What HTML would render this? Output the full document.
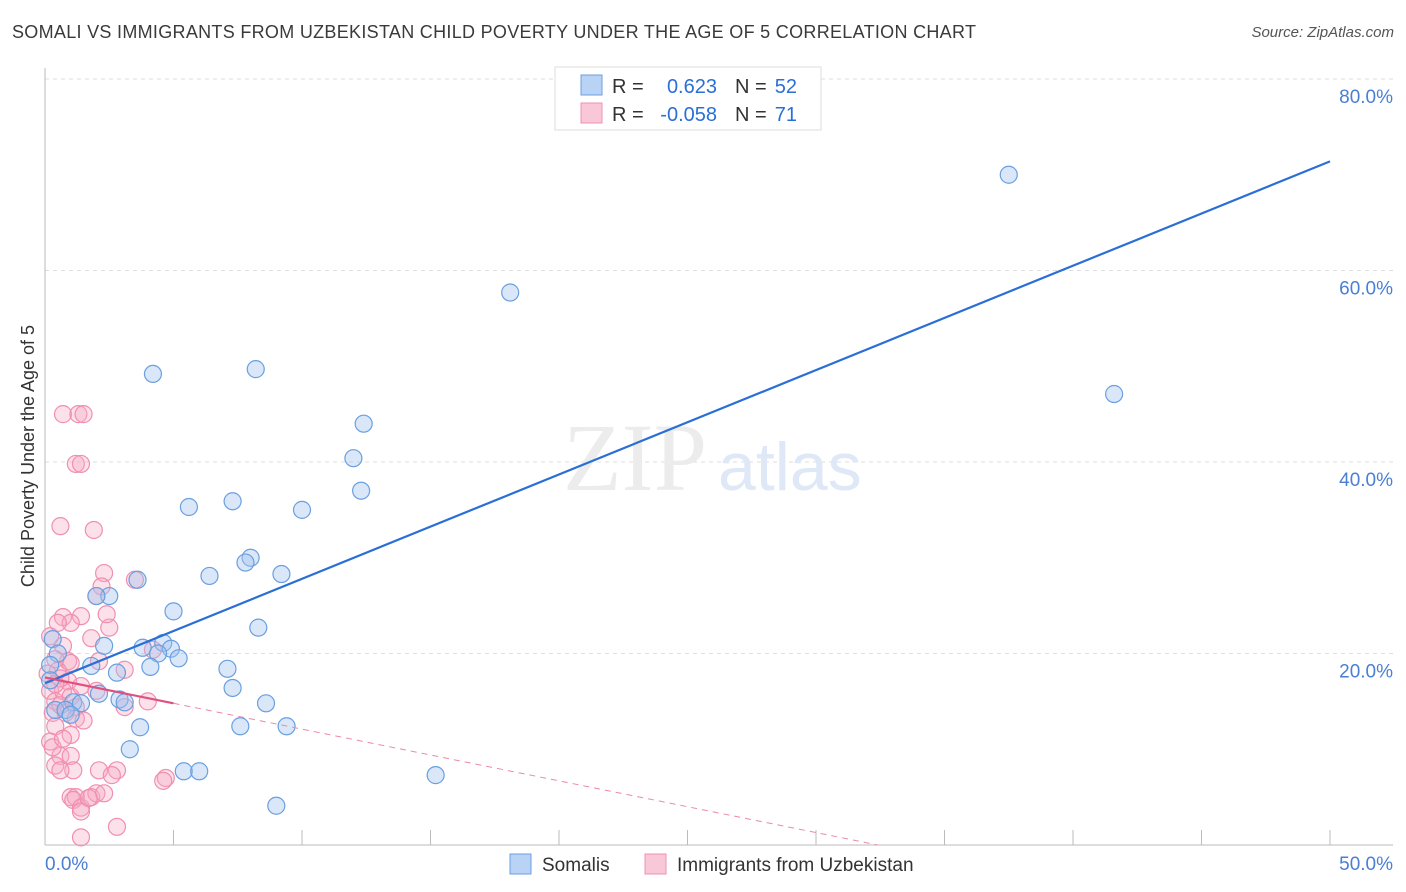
<!DOCTYPE html>
<html><head><meta charset="utf-8">
<style>
body{margin:0;background:#fff;font-family:"Liberation Sans",sans-serif;}
#wrap{position:relative;width:1406px;height:892px;overflow:hidden;}
.title{position:absolute;left:12px;top:22px;font-size:18px;color:#3a3a3a;letter-spacing:0.3px}
.source{position:absolute;right:12px;top:24px;font-size:15px;color:#555;font-style:italic}
</style></head><body>
<div id="wrap">
<div class="title">SOMALI VS IMMIGRANTS FROM UZBEKISTAN CHILD POVERTY UNDER THE AGE OF 5 CORRELATION CHART</div>
<div class="source">Source: ZipAtlas.com</div>
<svg id="svg" width="1406" height="892" style="position:absolute;left:0;top:0"></svg>
</div>
<script>
const yTicks=[20,40,60,80];
const xTickCount=[0,5,10,15,20,25,30,35,40,45,50];
const blueX=[37.5,18.1,41.6,4.2,8.2,12.4,12.0,12.3,5.6,7.3,10.0,8.0,7.8,6.4,9.2,3.6,2.5,2.0,5.0,8.3,0.3,0.5,1.8,2.3,3.8,4.6,4.9,4.4,5.2,4.1,7.1,2.8,7.3,2.1,2.9,3.1,8.6,1.1,1.4,0.4,0.2,0.2,3.7,7.6,9.4,3.3,15.2,5.4,6.0,9.0,0.8,1.0];
const blueY=[70.0,57.7,47.1,49.2,49.7,44.0,40.4,37.0,35.3,35.9,35.0,30.0,29.5,28.1,28.3,27.7,26.0,26.0,24.4,22.7,21.5,20.0,18.7,20.8,20.6,21.1,20.5,20.0,19.5,18.6,18.4,18.0,16.4,15.8,15.2,14.9,14.8,14.9,14.8,14.1,18.8,17.2,12.3,12.4,12.4,10.0,7.3,7.7,7.7,4.1,14.1,13.6];
const pinkX=[0.7,1.3,1.5,1.2,1.4,0.6,1.9,2.3,3.5,2.2,2.0,1.4,0.7,1.0,2.5,2.4,0.2,0.5,1.8,0.7,0.9,1.0,2.1,0.5,0.9,0.2,0.4,0.7,1.0,1.2,1.4,2.0,0.8,1.2,0.3,0.4,0.2,1.0,0.6,1.0,3.1,4.0,4.2,3.1,0.3,0.4,1.1,2.1,2.8,2.6,4.7,4.6,1.0,1.2,1.1,1.4,1.4,1.8,2.0,2.3,1.7,2.8,1.4,0.6,0.6,0.4,0.6,1.5,0.7,0.1,0.4];
const pinkY=[45.0,45.0,45.0,39.8,39.8,33.3,32.9,28.4,27.7,27.0,26.0,23.9,23.8,23.2,22.7,24.1,21.8,23.2,21.6,20.8,19.2,19.0,19.2,18.2,17.1,16.1,15.0,16.1,15.5,14.4,16.6,16.1,13.8,13.2,13.8,12.4,10.8,11.5,9.3,9.3,18.3,15.0,20.4,14.4,10.2,8.3,7.8,7.8,7.8,7.3,7.0,6.7,5.0,5.0,4.7,3.9,3.5,5.0,5.4,5.4,4.9,1.9,0.8,7.8,17.4,19.4,14.6,13.0,11.1,17.9,16.8];
const blueLine=[16.9,71.4];
const pinkLine=[17.5,14.8,0];
const X=v=>45+v*25.7, Y=v=>845-v*9.575;
const svg=document.getElementById('svg');const NS='http://www.w3.org/2000/svg';
function el(t,a,p){const e=document.createElementNS(NS,t);for(const k in a)e.setAttribute(k,a[k]);(p||svg).appendChild(e);return e;}
yTicks.forEach(v=>{const g=el('line',{x1:45,x2:1393,y1:Y(v),y2:Y(v),stroke:'#ddd','stroke-dasharray':'4,4'});


const t=el('text',{x:1393,y:Y(v)+24,'text-anchor':'end','font-size':19,fill:'#4a7fd4','font-family':'Liberation Sans, sans-serif'});t.textContent=v.toFixed(1)+'%';

});
el('line',{x1:45,x2:45,y1:68,y2:845,stroke:'#bbb'});
el('line',{x1:45,x2:1393,y1:845,y2:845,stroke:'#bbb'});
xTickCount.forEach(v=>{if(v>0){const l=el('line',{x1:X(v),x2:X(v),y1:830,y2:845,stroke:'#bbb'});}});
const w=el('text',{x:635,y:490,'text-anchor':'middle','font-size':96,fill:'#ececec','font-family':'Liberation Serif, serif'});w.textContent='ZIP';

const w2=el('text',{x:718,y:490,'font-size':68,fill:'#dfe8f6','font-family':'Liberation Sans, sans-serif'});w2.textContent='atlas';

pinkX.forEach((x,i)=>{const c=el('circle',{cx:X(x),cy:Y(pinkY[i]),r:8.5,fill:'rgba(246,168,194,0.35)',stroke:'#f08fb0','stroke-width':1.2});

});
blueX.forEach((x,i)=>{const c=el('circle',{cx:X(x),cy:Y(blueY[i]),r:8.5,fill:'rgba(160,196,240,0.4)',stroke:'#6a9fe0','stroke-width':1.2});

});
const bl=el('line',{x1:X(0),y1:Y(blueLine[0]),x2:X(50),y2:Y(blueLine[1]),stroke:'#2a6fd6','stroke-width':2.2});

const pl=el('line',{x1:X(0),y1:Y(pinkLine[0]),x2:X(5),y2:Y(pinkLine[1]),stroke:'#e0507e','stroke-width':2.2});

const slope=(pinkLine[1]-pinkLine[0])/5, xz=-pinkLine[0]/slope;
const pd=el('line',{x1:X(5),y1:Y(pinkLine[1]),x2:X(xz),y2:Y(pinkLine[2]),stroke:'#eb8aa8','stroke-width':1,'stroke-dasharray':'6,5'});

[[0,'start',45],[50,'end',1393]].forEach(([v,a,x])=>{const t=el('text',{x:x,y:870,'text-anchor':a,'font-size':19,fill:'#4a7fd4','font-family':'Liberation Sans, sans-serif'});t.textContent=v.toFixed(1)+'%';
});
const yt=el('text',{x:0,y:0,transform:'translate(34,456) rotate(-90)','text-anchor':'middle','font-size':18,fill:'#333','font-family':'Liberation Sans, sans-serif'});yt.textContent='Child Poverty Under the Age of 5';

const lg=el('g',{});
el('rect',{x:555,y:67,width:266,height:63,fill:'#fff',stroke:'#ddd'},lg);
el('rect',{x:581,y:75,width:21,height:20,fill:'#b8d3f5',stroke:'#6a9fe0'},lg);
el('rect',{x:581,y:103,width:21,height:20,fill:'#f9c8d8',stroke:'#f08fb0'},lg);
function tx(x,y,s,c,a){const t=el('text',{x:x,y:y,'font-size':20,fill:c,'text-anchor':a||'start','font-family':'Liberation Sans, sans-serif'},lg);t.textContent=s;return t;}
tx(612,93,'R =','#333');tx(717,93,'0.623','#2a6fd6','end');tx(735,93,'N =','#333');tx(797,93,'52','#2a6fd6','end');
tx(612,121,'R =','#333');tx(717,121,'-0.058','#2a6fd6','end');tx(735,121,'N =','#333');tx(797,121,'71','#2a6fd6','end');
const bg=el('g',{});
el('rect',{x:510,y:854,width:21,height:20,fill:'#b8d3f5',stroke:'#6a9fe0'},bg);
el('rect',{x:645,y:854,width:21,height:20,fill:'#f9c8d8',stroke:'#f08fb0'},bg);
[[542,'Somalis'],[677,'Immigrants from Uzbekistan']].forEach(([x,s])=>{const t=el('text',{x:x,y:871,'font-size':19,fill:'#333','font-family':'Liberation Sans, sans-serif'},bg);t.textContent=s;});
</script>
</body></html>
